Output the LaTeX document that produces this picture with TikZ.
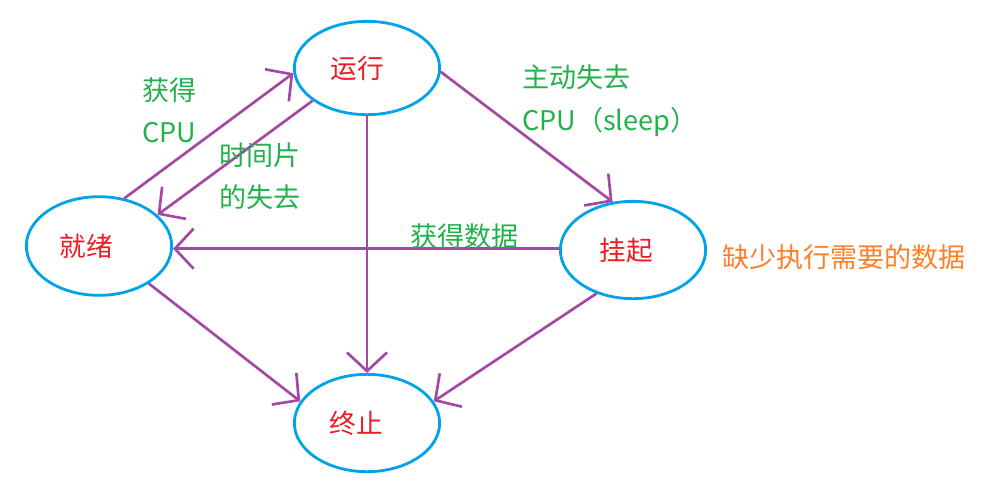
\documentclass[tikz,border=0pt]{standalone}
\usepackage{fontspec}
\setmainfont{Noto Sans CJK SC}
\usetikzlibrary{arrows.meta,shapes.geometric}
\definecolor{pblue}{RGB}{0,162,232}
\definecolor{ppurple}{RGB}{163,73,164}
\definecolor{pgreen}{RGB}{34,177,76}
\definecolor{pred}{RGB}{237,28,36}
\definecolor{porange}{RGB}{255,127,39}
\tikzset{
  state/.style={ellipse,draw=pblue,line width=2.1pt,inner sep=0pt,
    minimum width=109pt,minimum height=70pt,text=pred,font=\fontsize{20pt}{24pt}\selectfont},
  conn/.style={draw=ppurple,line width=2pt,
    -{Straight Barb[length=14pt,width=30pt,line width=2pt]}},
  glabel/.style={text=pgreen,anchor=west,inner sep=0pt,font=\fontsize{20.3pt}{24pt}\selectfont},
  olabel/.style={text=porange,anchor=west,inner sep=0pt,font=\fontsize{20.3pt}{24pt}\selectfont}
}
\begin{document}
\begin{tikzpicture}[x=0.75pt,y=-0.75pt]
\useasboundingbox (0,0) rectangle (983,494);
\node[state] (run) at (367,68) {运行\kern15pt\relax};
\node[state,minimum height=74pt] (ready) at (99,246) {就绪\kern19pt\relax};
\node[state,minimum height=73pt] (hang) at (633,250) {挂起\kern10pt\relax};
\node[state,minimum height=73pt] (stop) at (367,423) {终止\kern16pt\relax};

\draw[conn] (ready.62) -- (run.184);
\draw[conn] (run.211) -- (ready.28);
\draw[conn] (hang.179) -- (ready.east |- hang.179);
\draw[conn] (run.south) -- (stop.north);
\draw[conn] (ready.-37) -- (stop.162);
\draw[conn] (hang.230) -- (stop.18);
\draw[conn] (run.-3) -- (hang.113);

\node[glabel] (l1a) at (142,90) {获得};
\node[glabel] (l1b) at (142,133) {CPU};
\node[glabel] (l2a) at (219,155) {时间片};
\node[glabel] (l2b) at (219,197) {的失去};
\node[glabel] (l3a) at (522,77) {主动失去};
\node[glabel] (l3b) at (522,122) {CPU（sleep）};
\node[glabel] (l4) at (410,236) {获得数据};
\node[olabel] (l5) at (722,257) {缺少执行需要的数据};
\end{tikzpicture}
\end{document}
